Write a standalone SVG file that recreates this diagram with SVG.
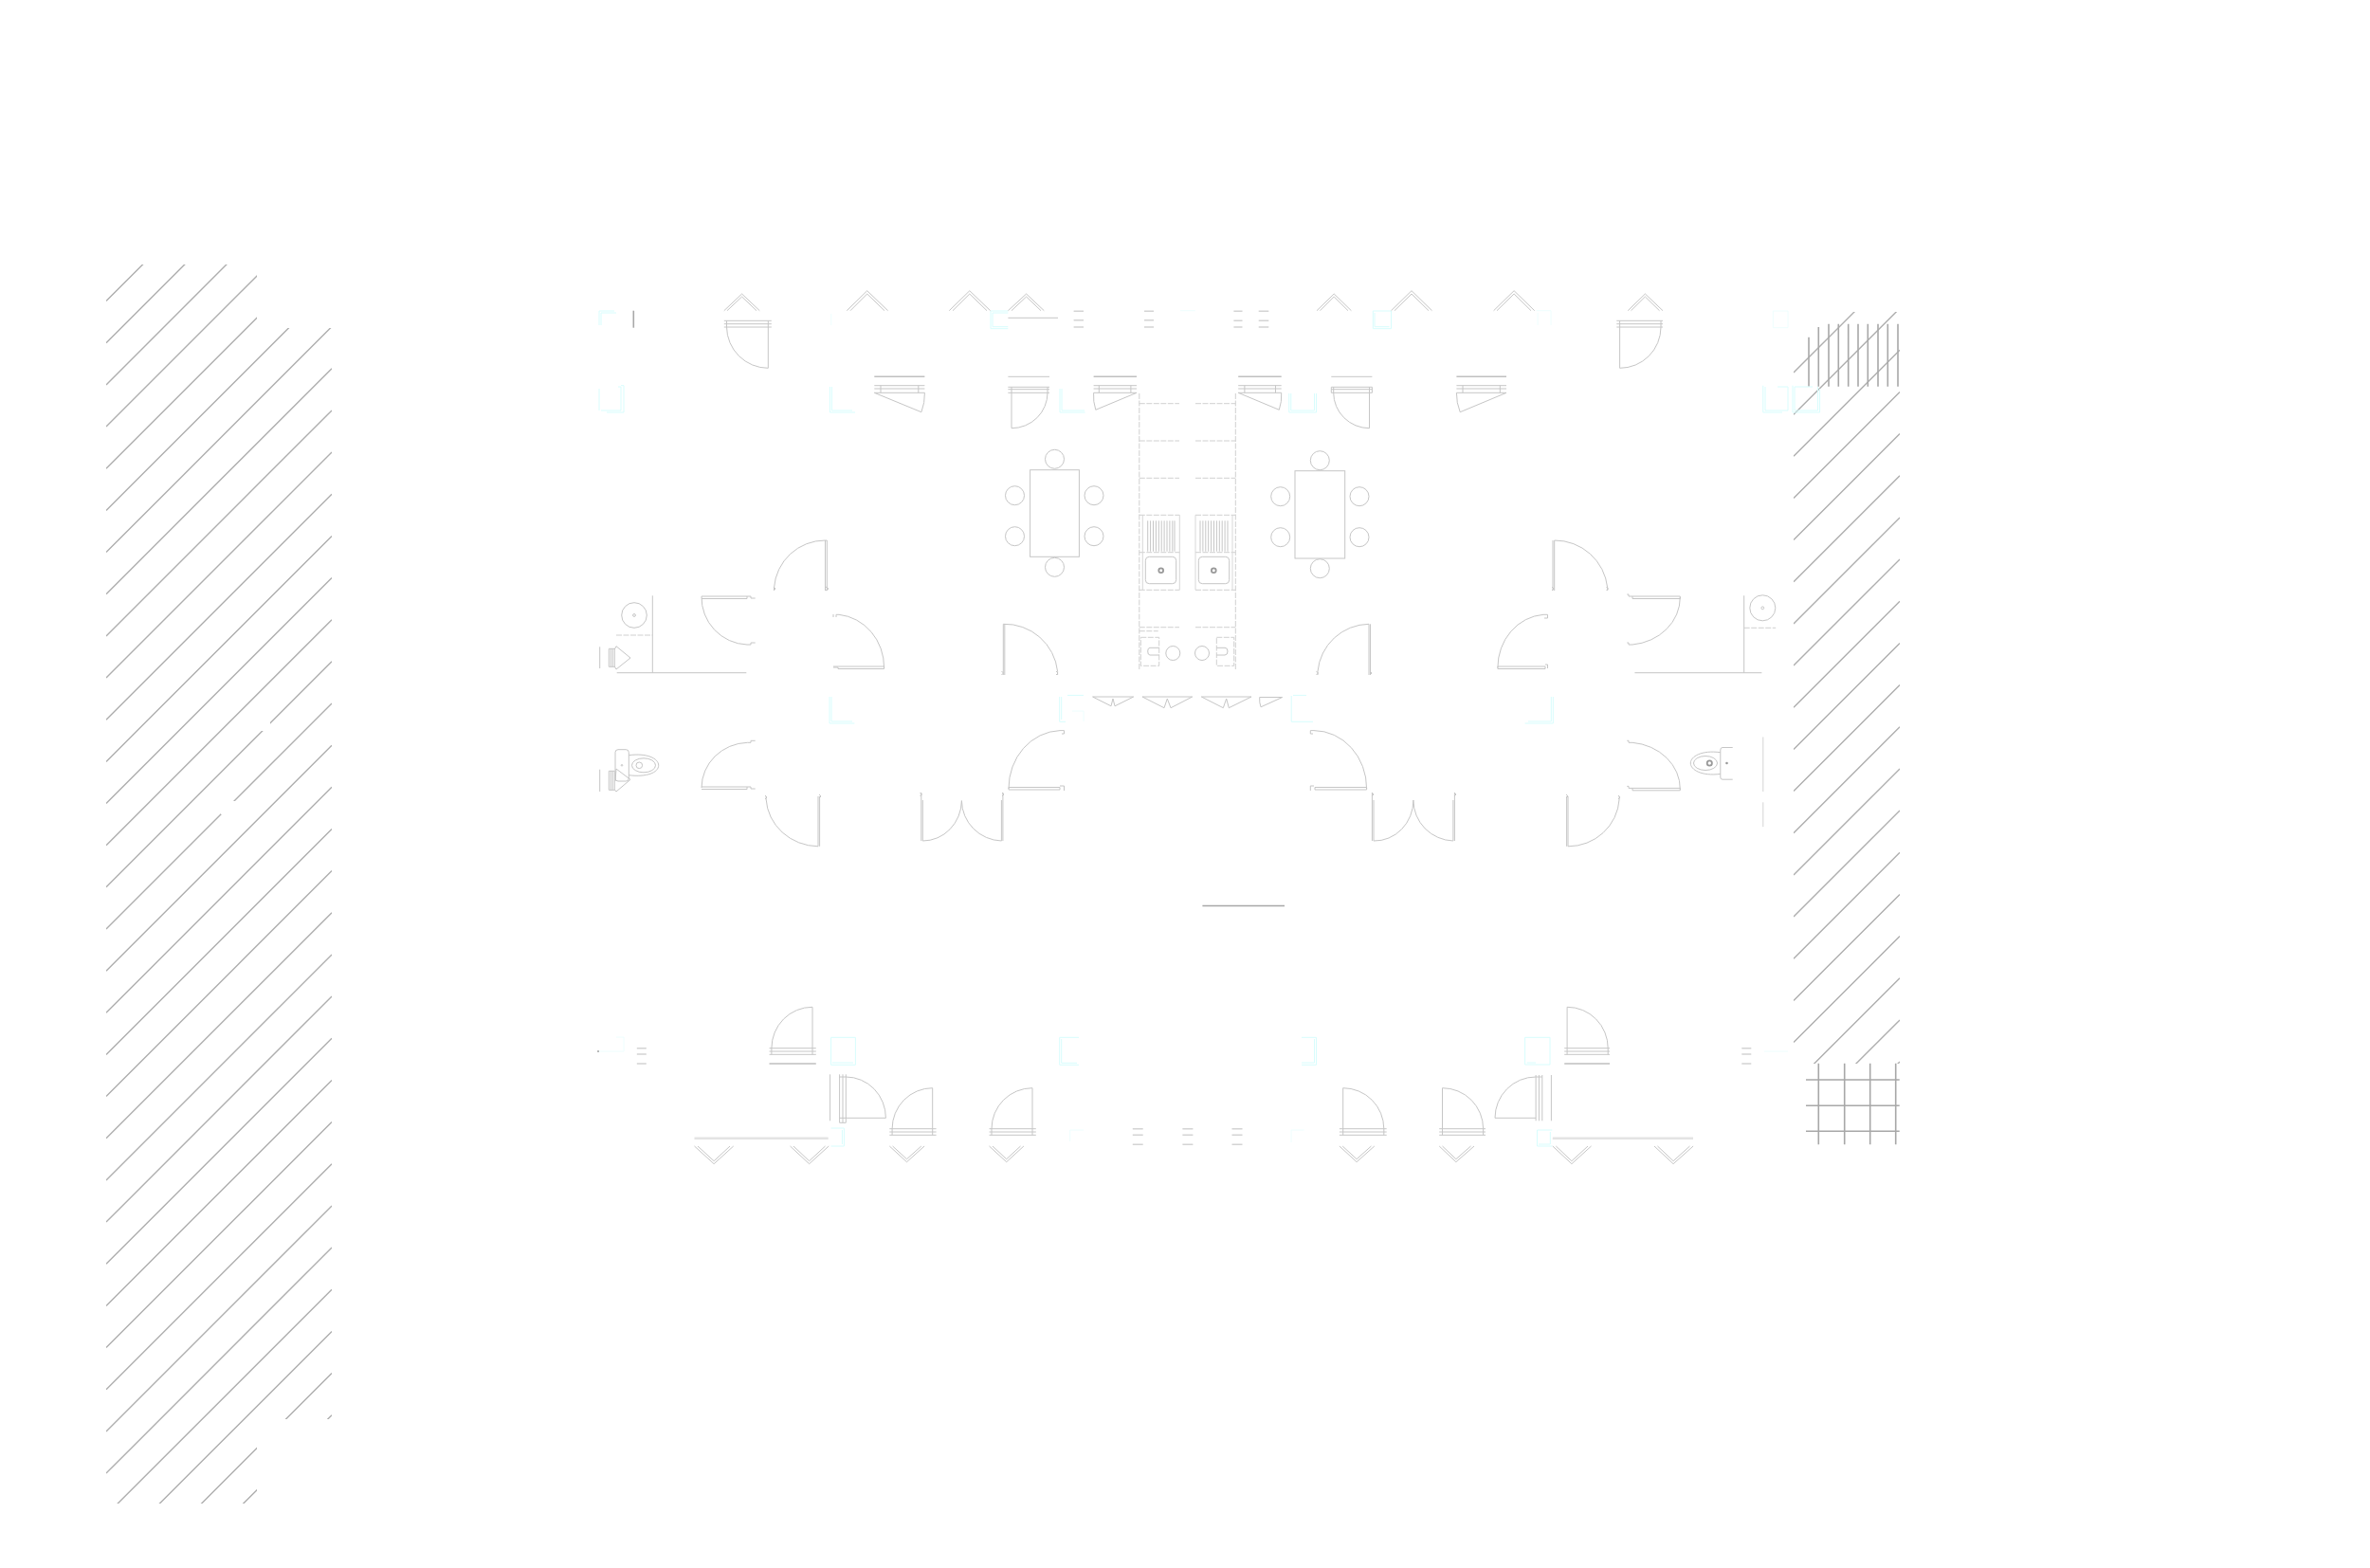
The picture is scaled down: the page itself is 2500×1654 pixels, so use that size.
<svg xmlns="http://www.w3.org/2000/svg" width="2500" height="1654" viewBox="0 0 2500 1654">
<style>
.h{stroke:#aeaeae;stroke-width:1.4;fill:none}
.k{stroke:#a8a8a8;stroke-width:1.6;fill:none}
.l{stroke:#c6c6c6;stroke-width:1;fill:none}
.t{stroke:#d8d8d8;stroke-width:1;fill:none}
.m{stroke:#c0c0c0;stroke-width:1.6;fill:none}
.d{stroke:#d0d0d0;stroke-width:1;fill:none;stroke-dasharray:6 1.5}
.e{stroke:#d4d4d4;stroke-width:1.5;fill:none}
.c{stroke:#d8fdfd;stroke-width:1;fill:none}
.f{stroke:#eefefe;stroke-width:1;fill:none}
.w{stroke:#e4e4e4;stroke-width:2.4;fill:none}
</style>
<defs>
<clipPath id="cl"><path d="M112 279H271V346H350V1497H271V1586H112Z"/></clipPath>
<clipPath id="cr"><rect x="1892" y="329" width="112" height="793"/></clipPath>
</defs>
<rect width="2500" height="1654" fill="#fff"/>
<g id="hatch-left" clip-path="url(#cl)" class="h">
<path d="M112 317.6L350 79.6M112 361.8L350 123.8M112 405.9L350 167.9M112 450.1L350 212.1M112 494.2L350 256.2M112 538.4L350 300.4M112 582.6L350 344.6M112 626.7L350 388.7M112 670.9L350 432.9M112 715L350 477M112 759.2L350 521.2M112 803.4L350 565.4M112 847.5L350 609.5M112 891.7L350 653.7M112 935.8L350 697.8M112 980L350 742M112 1024.2L350 786.2M112 1068.3L350 830.3M112 1112.5L350 874.5M112 1156.6L350 918.6M112 1200.8L350 962.8M112 1245L350 1007M112 1289.1L350 1051.1M112 1333.3L350 1095.3M112 1377.4L350 1139.4M112 1421.6L350 1183.6M112 1465.8L350 1227.8M112 1509.9L350 1271.9M112 1554.1L350 1316.1M112 1598.2L350 1360.2M112 1642.4L350 1404.4M112 1686.6L350 1448.6M112 1730.7L350 1492.7"/>
</g>
<g id="hatch-gaps" fill="#fff">
<rect x="193" y="768" width="18" height="14"/>
<rect x="275" y="762" width="10" height="9"/>
<rect x="233" y="845" width="16" height="14"/>
</g>
<g id="hatch-right" clip-path="url(#cr)" class="h">
<path d="M1892 393L2004 281M1892 437.2L2004 325.2M1892 481.3L2004 369.3M1892 525.5L2004 413.5M1892 569.6L2004 457.6M1892 613.8L2004 501.8M1892 658L2004 546M1892 702.1L2004 590.1M1892 746.3L2004 634.3M1892 790.4L2004 678.4M1892 834.6L2004 722.6M1892 878.8L2004 766.8M1892 922.9L2004 810.9M1892 967.1L2004 855.1M1892 1011.2L2004 899.2M1892 1055.4L2004 943.4M1892 1099.6L2004 987.6M1892 1143.7L2004 1031.7M1892 1187.9L2004 1075.9M1892 1232L2004 1120"/>
</g>
<g id="hatch-vertical" class="k">
<path d="M1908 355.7V407.7M1918.3 345V407.7M1929 341.7V407.7M1939.3 341.7V407.7M1949.7 341.7V407.7M1960 341.7V407.7M1970.3 341.7V407.7M1981 341.7V407.7M1991.3 341.7V407.7M2002 341.7V407.7"/>
</g>
<g id="grid" class="k">
<path d="M1918.3 1121.7V1207.3M1945.7 1121.7V1207.3M1972.7 1121.7V1207.3M1999.7 1121.7V1207.3M1905 1139H2003.7M1905 1166.3H2003.7M1905 1193.3H2003.7"/>
</g>
<g id="cyan-marks" class="c">
<path d="M648 328H632V343M650 330H634V343"/>
<path d="M655 406.7H658V435H640M652 408H655V433H634M632 410V433"/>
<path d="M875.4 408V435H902M877.4 408V433H899"/>
<path d="M1118 410V435H1144.6M1120 410V433H1144"/>
<path d="M1063.4 328H1045V346.7H1063.4M1063.4 330H1047V344.7H1063.4"/>
<path d="M1448.3 328H1467.5V346.7H1448.3ZM1450 330V344.7H1465.5"/>
<path d="M1359.8 415V435H1388.5V415M1361.8 415V433H1386.5V415"/>
<path d="M1859.8 406.7V435H1880M1862 408V433H1886V408H1875"/>
<path d="M1891 406.7V435H1919.6V410M1893 408H1912M1893 408V433H1917.6V408"/>
<path d="M875 735V763H901.4M877 735V761H899"/>
<path d="M1117.7 735V761.3H1124M1119.7 735V759M1126 733.4H1143"/>
<path d="M1362.2 734V761.3H1385M1364 733.4H1378"/>
<path d="M1638.3 735V763H1608.6M1636.3 735V761H1612"/>
<path d="M876.6 1094.3H902.4V1123.3H876.6ZM878 1121H900"/>
<path d="M1138 1094.3H1117.7V1123.3H1138M1119.7 1096V1121.3H1136"/>
<path d="M1373 1094.3H1388.5V1123.3H1373M1386.5 1096V1121H1373"/>
<path d="M1608.6 1094.3H1635V1123H1608.6ZM1610.6 1121H1620"/>
<path d="M876.6 1190H890.4V1209H876.6M888.4 1192V1207"/>
<path d="M1637.3 1192H1621.5V1209H1637.3M1635.3 1194V1207H1623"/>
</g>
<g id="cyan-faint" class="f">
<path d="M876.8 331V343M1245 327.7H1260.7M1620.6 327.7H1636V343M1622 330V343"/>
<path d="M1870.3 328H1886V345.7H1870.3Z"/>
<path d="M1128.7 1192H1143M1128.7 1192V1204M1362 1192H1375.6M1362 1192V1205"/>
<path d="M631 1109H658V1094H650M1860.8 1109H1886"/>
<path d="M1131 750H1143V761"/>
</g>
<g id="chevrons" class="l">
<path d="M763.8 327.7L782.6 310L801.3 327.7M767 327.7L782.6 313L798 327.7"/>
<path d="M893.3 327.7L914.7 306.7L936.6 327.7M897 327.7L914.7 310L933 327.7"/>
<path d="M1001.3 327.7L1022.8 306.7L1044.6 327.7M1005 327.7L1022.8 310L1041 327.7"/>
<path d="M1063.4 327.7L1082.6 310L1101.3 327.7M1067 327.7L1082.6 313L1098 327.7"/>
<path d="M1389 327.7L1407.2 310L1425.4 327.7M1392.5 327.7L1407.2 313L1422 327.7"/>
<path d="M1467.5 327.7L1489 306.7L1510.5 327.7M1471 327.7L1489 310L1507 327.7"/>
<path d="M1575.6 327.7L1597.1 306.7L1618.7 327.7M1579 327.7L1597.1 310L1615 327.7"/>
<path d="M1717.2 327.7L1735.4 310L1754 327.7M1720.5 327.7L1735.4 313L1750.5 327.7"/>
<path d="M732.5 1209L753.1 1227.7L773.7 1209M736 1209L753.1 1224.7L770 1209"/>
<path d="M833.5 1209L853.6 1227.7L874.2 1209M837 1209L853.6 1224.7L870.5 1209"/>
<path d="M938.3 1209L956.5 1225.7L975.1 1209M941.6 1209L956.5 1222.7L971.8 1209"/>
<path d="M1043.5 1209L1061.7 1225.7L1079.9 1209M1047 1209L1061.7 1222.7L1076.5 1209"/>
<path d="M1412.9 1209L1431.1 1225.7L1449.8 1209M1416.2 1209L1431.1 1222.7L1446.4 1209"/>
<path d="M1518.2 1209L1535.9 1225.7L1555 1209M1521.5 1209L1535.9 1222.7L1551.5 1209"/>
<path d="M1637.8 1209L1657.9 1227.7L1678.5 1209M1641.3 1209L1657.9 1224.7L1675 1209"/>
<path d="M1745 1209L1765.1 1227.7L1786.1 1209M1748.5 1209L1765.1 1224.7L1782.5 1209"/>
</g>
<g id="wall-lines">
<path class="k" d="M668.3 327.7V345.7"/>
<path class="l" d="M1063.4 335.3H1116"/>
<path class="m" d="M922.3 397.3H975.4M1153.6 397.3H1199M1306.2 397.3H1351.7M1536.4 397.3H1589"/>
<path class="l" d="M1063.4 397.3H1107M1404.3 397.3H1447.4"/>
<path class="k" d="M1268.4 955.5H1355"/>
<path class="m" d="M811.5 1122H860.8M1650.2 1122H1698"/>
<path class="k" d="M631 1110V1108"/>
<path class="w" d="M732.5 1200.7H873.7M1637.8 1200.7H1786"/>
<path class="e" d="M1132.6 328.3H1143M1132.6 337.7H1143M1132.6 345H1143M1207 328.3H1217M1207 337.7H1217M1207 345H1217M1301.4 328.3H1310.5M1301.4 338.3H1310.5M1301.4 345H1310.5M1327.7 328.3H1338.3M1327.7 338.3H1338.3M1327.7 345H1338.3"/>
<path class="e" d="M671.8 1105.7H681.8M671.8 1112H681.8M671.8 1122H681.8M1837.3 1105.7H1847.3M1837.3 1112H1847.3M1837.3 1122H1847.3"/>
<path class="e" d="M1194.8 1190.7H1205.7M1194.8 1197.3H1205.7M1194.8 1207.3H1205.7M1247.4 1190.7H1258.4M1247.4 1197.3H1258.4M1247.4 1207.3H1258.4M1299.5 1190.7H1310.5M1299.5 1197.3H1310.5M1299.5 1207.3H1310.5"/>
</g>
<g id="doors-top" class="l">
<path d="M763.8 338.3H813.8M763.8 341.7H813.8M763.8 345H813.8M766.5 338.3V345M810.3 338.3V345M810.3 345V388.3A44 44 0 0 1 766.5 345"/>
<path d="M1705.3 338.3H1754M1705.3 341.7H1754M1705.3 345H1754M1708.6 338.3V345M1752 338.3V345M1708.6 345V388.3A43.4 43.3 0 0 0 1752 345"/>
<path d="M922.3 406.7H975.4M922.3 410H975.4M922.3 414.3H975.4M929 406.7V414.3M968.8 406.7V414.3M922.3 414.3L971.9 434.7A53 53 0 0 0 975.4 414.3"/>
<path d="M1063.4 408.3H1107M1063.4 410.7H1107M1063.4 414.3H1107M1067 408.3V414.3M1105 408.3V414.3M1067 414.3V451.7A38 37.4 0 0 0 1105 414.3"/>
<path d="M1153.6 406.7H1199M1153.6 410H1199M1153.6 414.3H1199M1159.3 406.7V414.3M1192.9 406.7V414.3M1199 414.3L1155.8 432.3A46 46 0 0 1 1153.6 414.3"/>
<path d="M1306.2 406.7H1351.7M1306.2 410H1351.7M1306.2 414.3H1351.7M1312.9 406.7V414.3M1345.5 406.7V414.3M1306.2 414.3L1349.3 432.3A46 46 0 0 0 1351.7 414.3"/>
<path d="M1404.3 408.3H1447.4V414.3H1404.3ZM1404.3 410.7H1447.4M1406.7 408.3V414.3M1444.5 408.3V414.3M1444.5 414.3V451.7A38 37.4 0 0 1 1406.7 414.3"/>
<path d="M1536.4 406.7H1589M1536.4 410H1589M1536.4 414.3H1589M1543 406.7V414.3M1582.3 406.7V414.3M1589 414.3L1540.2 434.7A53 53 0 0 1 1536.4 414.3"/>
</g>
<g id="doors-mid" class="l">
<path d="M872.3 623V570H870.5V623M870.5 570A54 54 0 0 0 816.5 620V623M816 619l2 2l-2 2M871 619l3 2l-3 2"/>
<path d="M740 629H788M740 631.5H788V629h4v2h4.7M740 629A50 50 0 0 0 788 680H792v-2h4.7"/>
<path d="M879 703H932.6V705.5H884V704H879M932.6 704.3A53 56 0 0 0 885 648.3H882V651M879 648V651"/>
<path d="M1059.8 712V658.3M1058.3 712V658.3A56 56 0 0 1 1115.6 708.3V712M1056.5 708l2 2l-2 2M1114 708l2 2l-2 2"/>
<path d="M1639.7 623V570M1638 623V570"/>
<path d="M1639.7 570A56 56 0 0 1 1695.7 620V623M1694.5 619l2 2l-2 2M1637 619l2 2l-2 2"/>
<path d="M1722 629H1772.3V631.5H1722V629h-4v-2h-1.7M1772.3 630A56 50 0 0 1 1722 680H1718v-2h-1.7"/>
<path d="M1579.9 703H1630V705.5H1579.9ZM1579.9 704.3A52 56 0 0 1 1628 648.3H1632.5V652H1629M1630 701H1632.5V705"/>
<path d="M1445.5 712V658.3M1444 712V658.3A55 55 0 0 0 1390 708.3V712M1388.5 708l2 2l-2 2M1445 708l2 2l-2 2"/>
</g>
<g id="doors-lower" class="l">
<path d="M740 830H788M740 832.6H788V830h4v2h4.7M740 831A50 48 0 0 1 788.3 783.3H792v-2h4.7"/>
<path d="M864.6 840V892.8M863 840V892.8A56 53 0 0 1 808.1 843V840M807 839l2 2l-2 2M864 838l2 2l-2 2"/>
<path d="M971.8 836V887M973.3 844V887A41 43 0 0 0 1014.4 844.6A43.5 43 0 0 0 1056.4 887V844M1057.9 836V887M970.5 836l2 2l-2 2M1057 836l2 2l-2 2"/>
<path d="M1064 830.5H1118V833H1064ZM1064 831.9A56 61 0 0 1 1118 770.6H1122.5V774H1120M1118 829H1122.5V834"/>
<path d="M1387 830.5H1441.6V833H1387ZM1441.6 831.9A56 61 0 0 0 1386 770.6H1382.3V774H1385M1386 829H1382.3V834"/>
<path d="M1447.4 836V887M1449 844V887A41 43 0 0 0 1490.9 844A43.5 43 0 0 0 1532.9 887V844M1534.4 836V887M1447 836l2 2l-2 2M1534 836l2 2l-2 2"/>
<path d="M1652.6 840V892.8M1654 840V892.8A54 53 0 0 0 1708.1 843V840M1707 839l2 2l-2 2M1652 838l2 2l-2 2"/>
<path d="M1722 831.4H1772.3V833.8H1722V831.4h-4v-2h-1.7M1772.3 832.6A56 49 0 0 0 1722 783.3H1718v-2h-1.7"/>
</g>
<g id="doors-bottom" class="l">
<path d="M811.5 1105.7H860.8M811.5 1109H860.8M811.5 1112.3H860.8M813.9 1105.7V1112.3M857 1105.7V1112.3M857 1105.7V1062.3A43 43.4 0 0 0 813.9 1105.7"/>
<path d="M1650.2 1105.7H1698M1650.2 1109H1698M1650.2 1112.3H1698M1653.1 1105.7V1112.3M1696.2 1105.7V1112.3M1653.1 1105.7V1062.3A43 43.4 0 0 1 1696.2 1105.7"/>
<path d="M938.3 1190.7H987.6M938.3 1194H987.6M938.3 1197.3H987.6M941.1 1190.7V1197.3M983.7 1190.7V1197.3M983.7 1190.7V1147.7A42.6 43 0 0 0 941.1 1190.7"/>
<path d="M1043.5 1190.7H1092.8M1043.5 1194H1092.8M1043.5 1197.3H1092.8M1046 1190.7V1197.3M1089 1190.7V1197.3M1089 1190.7V1147.7A43 43 0 0 0 1046 1190.7"/>
<path d="M1412.9 1190.7H1462.7M1412.9 1194H1462.7M1412.9 1197.3H1462.7M1416.7 1190.7V1197.3M1459.8 1190.7V1197.3M1416.7 1190.7V1147.7A43 43 0 0 1 1459.8 1190.7"/>
<path d="M1518.2 1190.7H1567M1518.2 1194H1567M1518.2 1197.3H1567M1521.5 1190.7V1197.3M1564.6 1190.7V1197.3M1521.5 1190.7V1147.7A43 43 0 0 1 1564.6 1190.7"/>
<path d="M875.6 1133.3V1182.3M885.6 1133.3V1184.3H892.3V1133.3M889 1133.3V1184.3M885.6 1179.3H892.3H934.4A42 43.3 0 0 0 892.3 1136H885.6"/>
<path d="M1636.4 1134V1182.3M1620.1 1134V1182.3M1623.4 1134V1182.3M1626.8 1134V1182.3M1620.1 1179.3H1577A43 43.3 0 0 1 1620 1136H1626.8"/>
</g>
<g id="folding-doors" class="l">
<path d="M1152.6 735H1195.7L1176 744.8L1174 737L1172 744.8Z"/>
<path d="M1205 735H1257.7L1235 746.7L1231.3 737L1228 746.7Z"/>
<path d="M1267.3 735H1320L1296.3 746.7L1293.7 737L1290.3 746.7Z"/>
<path d="M1328.7 735.5H1352.6L1330 745.8A24 24 0 0 1 1328.7 735.5Z"/>
</g>
<g id="table-left" class="l">
<rect x="1086.6" y="495.7" width="51.8" height="91.6"/>
<circle cx="1112.5" cy="484.3" r="10"/><circle cx="1112.5" cy="598.3" r="10"/>
<circle cx="1070.5" cy="522.7" r="10"/><circle cx="1154" cy="522.7" r="10"/>
<circle cx="1070.5" cy="565.7" r="10"/><circle cx="1154" cy="565.7" r="10"/>
</g>
<g id="table-right" class="l">
<rect x="1366" y="496.7" width="52.7" height="92.3"/>
<circle cx="1392.3" cy="485.7" r="10"/><circle cx="1392.3" cy="599.7" r="10"/>
<circle cx="1350.7" cy="523.7" r="10"/><circle cx="1434" cy="523.7" r="10"/>
<circle cx="1350.7" cy="566.7" r="10"/><circle cx="1434" cy="566.7" r="10"/>
</g>
<g id="kitchen">
<path class="d" d="M1201.8 415V706.7M1303.3 415V706.7"/>
<path class="d" d="M1201.8 425.7H1244M1261 425.7H1303.3M1201.8 465H1244M1261 465H1303.3M1201.8 504.3H1244M1261 504.3H1303.3M1201.8 661.7H1244M1261 661.7H1303.3"/>
<path class="d" d="M1201.8 665.7H1221.7"/>
<path class="d" d="M1201.8 543.3H1244.3M1201.8 582.7H1244.3M1201.8 622.3H1244.3M1261 543.3H1303.3M1261 582.7H1303.3M1261 622.3H1303.3"/>
<path class="t" d="M1205.3 543.3V622.3M1244.3 543.3V622.3M1261 543.3V622.3M1300 543.3V622.3"/>
<path class="l" d="M1210.7 549.3V581.7M1213.6 549.3V581.7M1216.5 549.3V581.7M1219.4 549.3V581.7M1222.3 549.3V581.7M1225.2 549.3V581.7M1228.1 549.3V581.7M1231 549.3V581.7M1233.9 549.3V581.7M1236.8 549.3V581.7M1239 549.3V581.7"/>
<path class="l" d="M1266 549.3V581.7M1268.9 549.3V581.7M1271.8 549.3V581.7M1274.7 549.3V581.7M1277.6 549.3V581.7M1280.5 549.3V581.7M1283.4 549.3V581.7M1286.3 549.3V581.7M1289.2 549.3V581.7M1292.1 549.3V581.7M1295 549.3V581.7"/>
<rect class="l" x="1208.3" y="587.3" width="32.4" height="28.4" rx="4"/>
<rect class="l" x="1264.3" y="587.3" width="32.4" height="28.4" rx="4"/>
<circle cx="1224.7" cy="601.7" r="2.4" fill="#fff" stroke="#999" stroke-width="1.8"/>
<circle cx="1280.3" cy="601.7" r="2.4" fill="#fff" stroke="#999" stroke-width="1.8"/>
<rect class="d" x="1203.3" y="672.3" width="19.4" height="30"/>
<rect class="d" x="1283.3" y="672.3" width="18.4" height="30"/>
<path class="l" d="M1222.7 683.3H1213Q1210.7 683.3 1210.7 687Q1210.7 691 1213 691H1222.7M1283.3 683.3H1292Q1295 683.3 1295 687Q1295 691 1292 691H1283.3"/>
<circle class="l" cx="1237.3" cy="689" r="7.5"/>
<circle class="l" cx="1268" cy="689" r="7.5"/>
</g>
<g id="fixture-left" class="l">
<circle cx="669" cy="649" r="13.3"/><circle cx="669" cy="649" r="1.4"/>
<path d="M688.3 628.3V709.7M650.7 709.7H787.3"/>
<path class="d" d="M650 670H688.3"/>
<path d="M632.7 682.3V705M642.3 684.3H648.3V703.3H642.3ZM644.3 684.3V703.3M646.3 684.3V703.3M648.3 685L650 681.7L665 694L650 706L648.3 703"/>
</g>
<g id="toilet-left" class="l">
<rect x="649" y="790.7" width="14.3" height="33.3" rx="3"/>
<circle cx="656" cy="807.3" r="0.8"/>
<path d="M663.3 796.7C682 794 694.7 800 694.7 807.3C694.7 815 682 820 663.3 817.7"/>
<ellipse cx="679" cy="807.3" rx="12.5" ry="7.5"/>
<circle cx="674.3" cy="807.3" r="3.3"/>
<path d="M632.7 811.7V835M642.3 813.3H648.3V833.3H642.3ZM644.3 813.3V833.3M646.3 813.3V833.3M650 811L665 822.3L650 835L648.3 833M649 824L650 811"/>
</g>
<g id="fixture-right" class="l">
<circle cx="1859.3" cy="641.3" r="13.5"/><circle cx="1859.3" cy="641.3" r="1.4"/>
<path d="M1839.7 628.3V709.7M1724.4 709.7H1858.4"/>
<path class="d" d="M1839.7 662.3H1873.2"/>
</g>
<g id="toilet-right" class="l">
<path d="M1827.7 788.5H1817Q1814.8 788.5 1814.8 791V820Q1814.8 822.2 1817 822.2H1827.7"/>
<path d="M1814.8 793.7C1795 791 1783.3 798 1783.3 805C1783.3 812 1795 819 1814.8 816.4"/>
<ellipse cx="1799" cy="805" rx="12.5" ry="7.5"/>
<circle cx="1803.3" cy="805" r="2.6" stroke="#999" stroke-width="1.8"/>
<circle cx="1821.5" cy="805" r="1.3" fill="#999" stroke="none"/>
<path stroke="#d4d4d4" d="M1859.8 777.5V835M1859.8 846.3V872.2"/>
</g>
</svg>
